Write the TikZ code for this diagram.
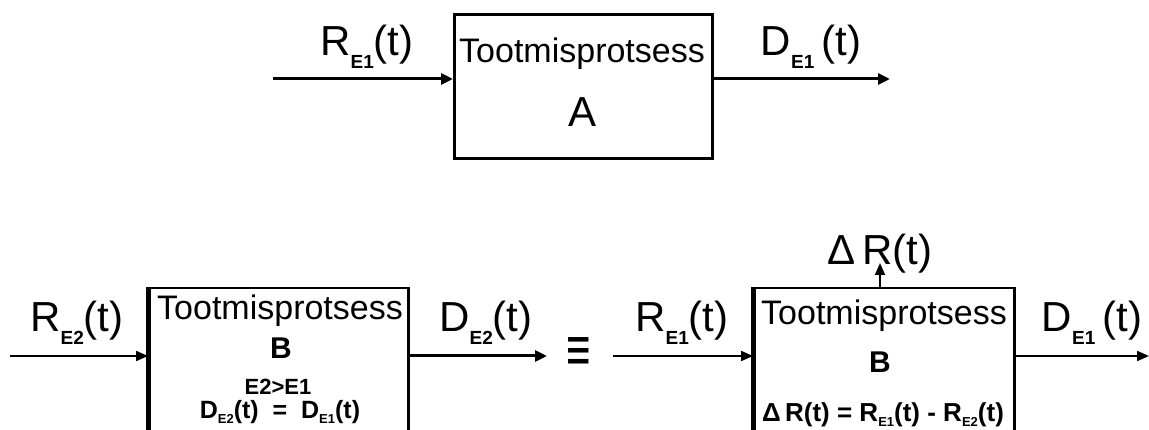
\documentclass[tikz,border=0pt]{standalone}
\usepackage{fontspec}
\setmainfont{Liberation Sans}
\usetikzlibrary{arrows.meta}
\newcommand{\Sb}[1]{\raisebox{-13pt}{\fontsize{19}{19}\selectfont\bfseries #1}}
\newcommand{\sbs}[1]{\raisebox{-5pt}{\fontsize{13}{13}\selectfont\bfseries #1}}
\tikzset{
 boxthick/.style={draw, line width=3pt, inner sep=0pt, anchor=north west},
 boxthin/.style={draw, line width=2.5pt, inner sep=0pt, anchor=north west, minimum height=170pt},
 lab/.style={anchor=base, inner sep=0pt, font=\fontsize{42}{42}\selectfont},
 ttl/.style={anchor=base, inner sep=0pt, font=\fontsize{34}{34}\selectfont},
 bigB/.style={anchor=base, inner sep=0pt, font=\fontsize{30}{30}\selectfont\bfseries},
 cond/.style={anchor=base, inner sep=0pt, font=\fontsize{22}{22}\selectfont\bfseries},
 eqn/.style={anchor=base, inner sep=0pt, font=\fontsize{25}{25}\selectfont\bfseries},
 thickarr/.style={line width=3pt, -{Triangle[length=12pt,width=11pt]}},
 thinarr/.style={line width=2pt, -{Triangle[length=12pt,width=10pt]}},
}
\begin{document}
\begin{tikzpicture}[x=1pt,y=-1pt]
\useasboundingbox (0,0) rectangle (1149,430);
\clip (0,0) rectangle (1149,430);

% ---------- top: process A ----------
\node[boxthick, minimum width=258pt, minimum height=144pt] (A) at (453,13) {};
\node[ttl] (Att) at (582,63) {Tootmisprotsess};
\node[lab] (Aname) at (583,127) {A};
\coordinate (a0) at (273,79);
\coordinate (a1) at (890,79);
\draw[thickarr] (a0) -- (a0 -| A.west);
\draw[thickarr] (a1 -| A.east) -- (a1);
\node[lab] (Ain) at (367,56) {R\Sb{E1}(t)};
\node[lab] (Aout) at (811,56) {D\Sb{E1}\,(t)};

% ---------- bottom left: process B, E2 ----------
\node[boxthin, minimum width=259pt] (B1) at (148,287) {};
\draw[line width=4pt] (B1.north west) -- (B1.south west);
\node[ttl] (B1t) at (280,320) {Tootmisprotsess};
\node[bigB] (B1n) at (281,359) {B};
\node[cond] (B1c) at (278,394) {E2>E1};
\node[eqn] (B1e) at (280,418) {D\sbs{E2}(t) \;=\; D\sbs{E1}(t)};
\coordinate (b0) at (10,356);
\coordinate (b1) at (547,356);
\draw[thinarr] (b0) -- (b0 -| B1.west);
\draw[thickarr] (b1 -| B1.east) -- (b1);
\node[lab] (B1in) at (77,332) {R\Sb{E2}(t)};
\node[lab] (B1out) at (486,332) {D\Sb{E2}(t)};

% ---------- equivalence ----------
\node[inner sep=0pt, font=\fontsize{42}{42}\selectfont\bfseries] (eq) at (579,355) {\scalebox{1}[1.5]{≡}};

% ---------- bottom right: process B, E1 ----------
\node[boxthin, minimum width=260pt] (B2) at (753,287) {};
\draw[line width=4pt] (B2.north west) -- (B2.south west);
\node[ttl] (B2t) at (884,325) {Tootmisprotsess};
\node[bigB] (B2n) at (880,373) {B};
\node[eqn, font=\fontsize{26}{26}\selectfont\bfseries] (B2e) at (883,421) {Δ\,R(t) = R\sbs{E1}(t) - R\sbs{E2}(t)};
\coordinate (c0) at (613,356);
\coordinate (c1) at (1149,356);
\coordinate (c2) at (880,263);
\draw[thinarr] (c0) -- (c0 -| B2.west);
\draw[thinarr] (c1 -| B2.east) -- (c1);
\draw[thinarr] (c2 |- B2.north) -- (c2);
\node[lab] (B2in) at (682,332) {R\Sb{E1}(t)};
\node[lab] (B2out) at (1092,332) {D\Sb{E1}\,(t)};
\node[lab] (B2up) at (880,265) {Δ\,R(t)};
\end{tikzpicture}
\end{document}
